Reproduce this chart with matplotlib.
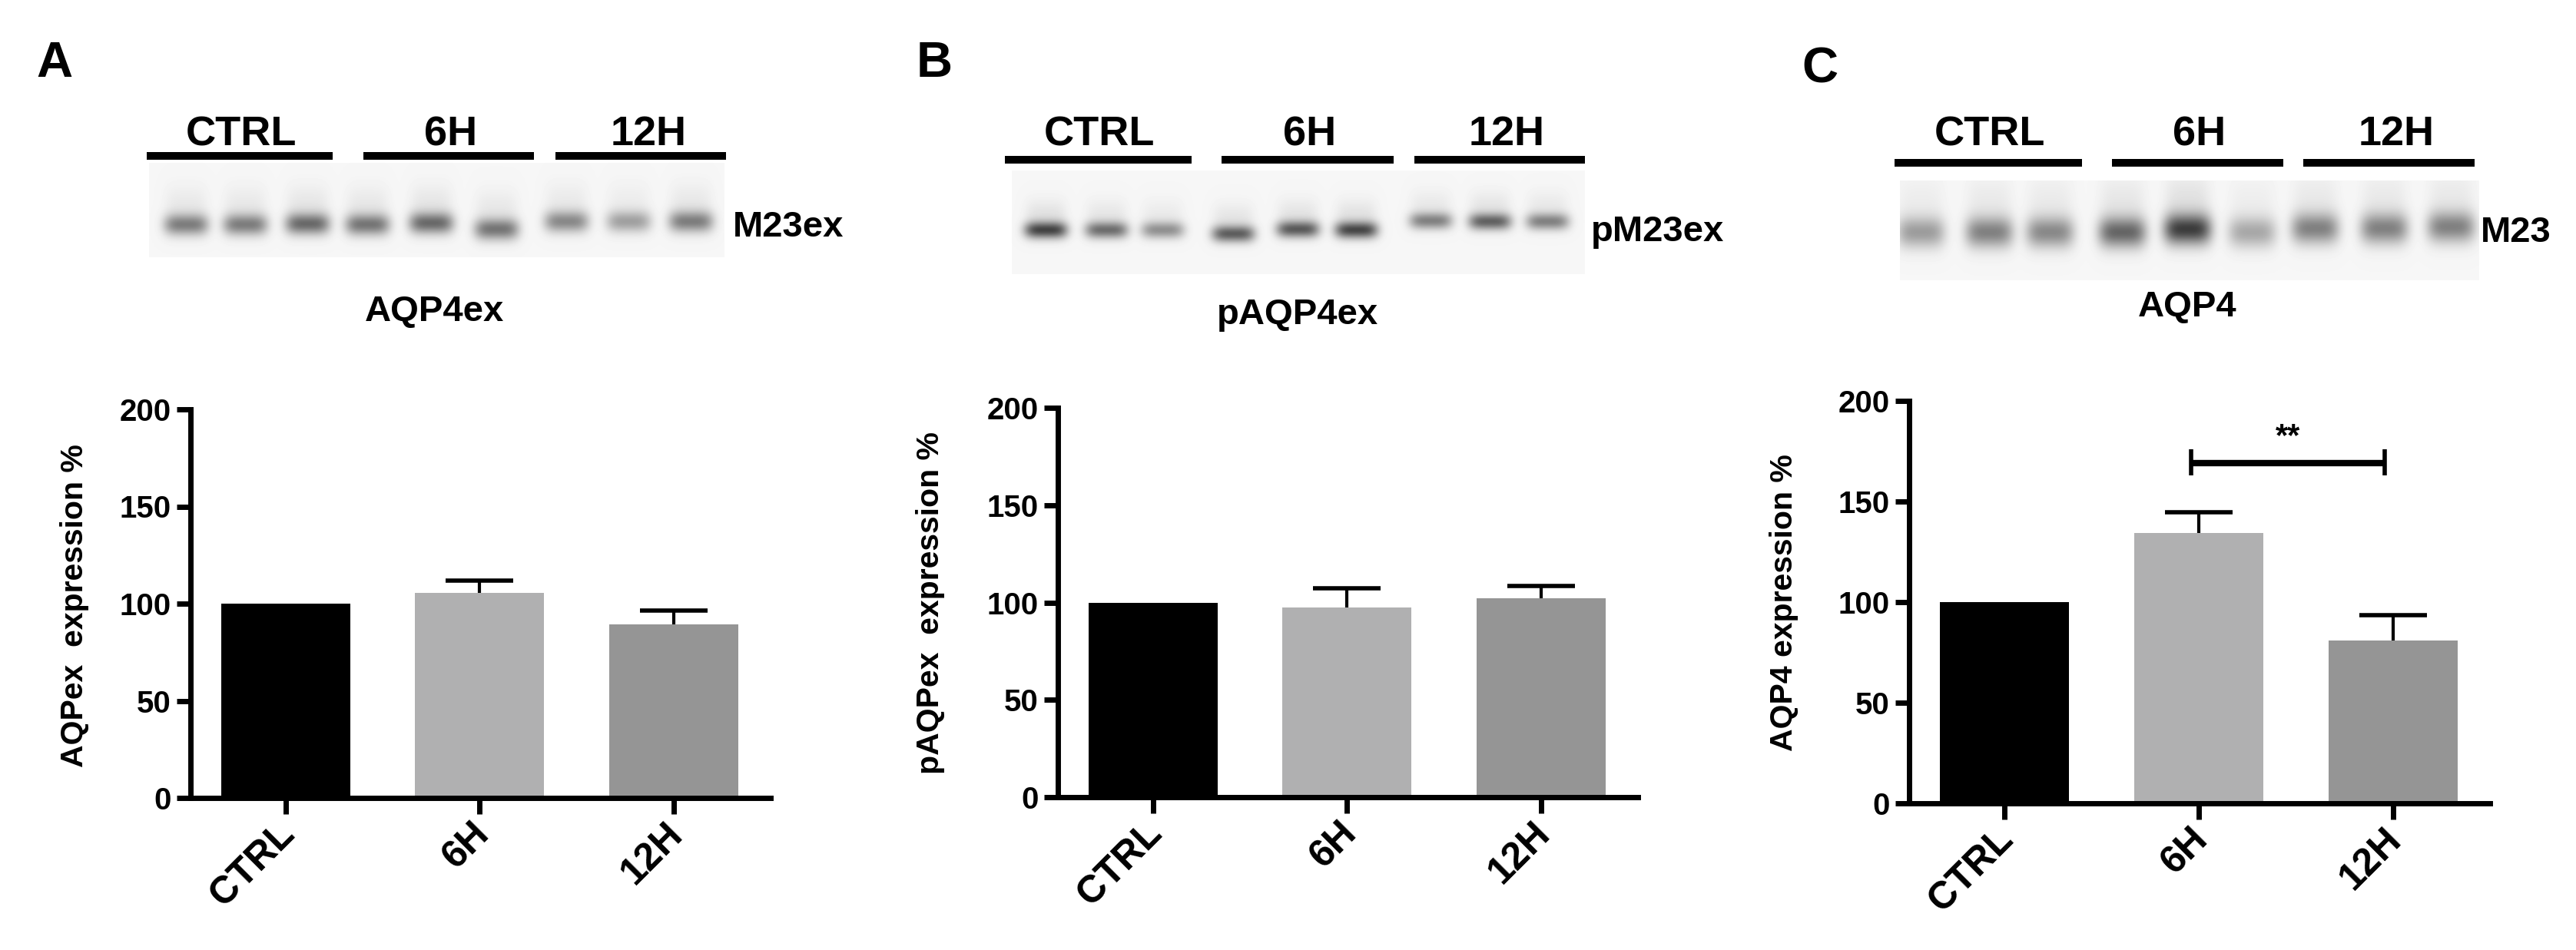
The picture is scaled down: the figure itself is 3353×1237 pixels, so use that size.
import matplotlib
matplotlib.use('Agg')
import matplotlib.pyplot as plt
import numpy as np

plt.rcParams['font.family'] = ['Liberation Sans', 'DejaVu Sans']
plt.rcParams['font.weight'] = 'bold'

W, H = 3353, 1237

groups = ['CTRL', '6H', '12H']
ticks_y = [0, 50, 100, 150, 200]

means_a = [100, 105.5, 89.3]
errs_a = [0, 6.5, 7.1]
means_b = [100, 97.6, 102.2]
errs_b = [0, 9.8, 6.3]
means_c = [100, 134.4, 81]
errs_c = [0, 10.4, 12.4]

colors = ['#000000', '#b0b0b1', '#959595']

ylabel_a = 'AQPex  expression %'
ylabel_b = 'pAQPex  expression %'
ylabel_c = 'AQP4 expression %'

# band strength per lane
dark_a = [0.62, 0.62, 0.72, 0.66, 0.72, 0.66, 0.56, 0.44, 0.62]
dark_b = [0.92, 0.70, 0.52, 0.78, 0.80, 0.90, 0.60, 0.76, 0.60]
dark_c = [0.46, 0.60, 0.56, 0.74, 0.95, 0.40, 0.60, 0.60, 0.60]

# lane layout in pixels
lanes_a_x = [242, 319, 400, 478, 561, 646, 737, 818, 899]
lanes_a_y = [292, 292, 291, 292, 290, 298, 288, 288, 288]
lanes_b_x = [1361, 1440, 1513, 1605, 1689, 1765, 1862, 1939, 2014]
lanes_b_y = [299, 299, 299, 304, 298, 299, 287, 288, 288]
lanes_c_x = [2500, 2589, 2668, 2762, 2847, 2931, 3013, 3103, 3190]
lanes_c_y = [302, 302, 302, 302, 298, 302, 297, 297, 295]

panels = [
    dict(letter='A', letter_xy=(71, 83), means=means_a, errs=errs_a, ylabel=ylabel_a,
         ylabel_xy=(97, 789), axes=(248, 1003, 533, 1039), xlim=(-0.49, 2.5),
         blot=(194, 943, 212, 335), lanes=(lanes_a_x, lanes_a_y, dark_a), band=(29, 14),
         rules=[(191, 433), (473, 695), (723, 945)], rule_y=203, heads=[314, 587, 844],
         tag='M23ex', tag_xy=(954, 296), name='AQP4ex', name_xy=(565, 406)),
    dict(letter='B', letter_xy=(1216, 83), means=means_b, errs=errs_b, ylabel=ylabel_b,
         ylabel_xy=(1211, 785), axes=(1377, 2132, 531, 1038), xlim=(-0.49, 2.5),
         blot=(1317, 2063, 222, 357), lanes=(lanes_b_x, lanes_b_y, dark_b), band=(28, 11),
         rules=[(1308, 1551), (1590, 1814), (1841, 2063)], rule_y=208, heads=[1431, 1705, 1961],
         tag='pM23ex', tag_xy=(2071, 302), name='pAQP4ex', name_xy=(1689, 410)),
    dict(letter='C', letter_xy=(2369, 90), means=means_c, errs=errs_c, ylabel=ylabel_c,
         ylabel_xy=(2322, 785), axes=(2485, 3241, 522, 1046), xlim=(-0.49, 2.5),
         blot=(2473, 3227, 235, 365), lanes=(lanes_c_x, lanes_c_y, dark_c), band=(31, 20),
         rules=[(2466, 2710), (2749, 2972), (2998, 3221)], rule_y=212, heads=[2590, 2863, 3119],
         tag='M23', tag_xy=(3229, 303), name='AQP4', name_xy=(2847, 400)),
]


def blot_image(box, lanes, band):
    x0, x1, y0, y1 = box
    xs, ys = np.meshgrid(np.arange(x0, x1), np.arange(y0, y1))
    img = np.full(xs.shape, 0.965)
    sx, sy = band
    for lx, ly, d in zip(*lanes):
        core = np.exp(-((xs - lx) / sx) ** 4) * np.exp(-((ys - ly) / sy) ** 2)
        smear = np.exp(-((xs - lx) / (sx * 0.95)) ** 4) * np.exp(-((ys - ly + 2.0 * sy) / (1.6 * sy)) ** 2)
        img -= 0.75 * d * core + 0.08 * d * smear
    return np.clip(img, 0, 1)


fig = plt.figure(figsize=(W / 100, H / 100), dpi=100, facecolor='white')
over = fig.add_axes([0, 0, 1, 1], zorder=0)
over.axis('off')

for p in panels:
    left, right, top, bottom = p['axes']
    ax = fig.add_axes([left / W, 1 - bottom / H, (right - left) / W, (bottom - top) / H], zorder=1)
    ax.patch.set_alpha(0)
    ax.bar(range(3), p['means'], width=0.665, color=colors, zorder=1)
    for i in range(1, 3):
        eb = ax.errorbar(i, p['means'][i], yerr=[[0], [p['errs'][i]]], color='black', elinewidth=3,
                         capsize=32, capthick=4, zorder=2)
        eb[1][0].set_visible(False)  # upper cap only
    ax.set_xlim(*p['xlim'])
    ax.set_ylim(0, 200)
    ax.set_yticks(ticks_y)
    ax.set_xticks(range(3))
    ax.set_xticklabels([])
    # tick labels sit left of the tick, a plain tick label can't be nudged sideways
    for i, g in enumerate(groups):
        ax.annotate(g, xy=(i, 0), xycoords=('data', 'axes fraction'), xytext=(-8.5, -17),
                    textcoords='offset points', rotation=45, ha='right', va='top',
                    rotation_mode='anchor', fontsize=36)
    ax.tick_params(axis='y', labelsize=29, length=13, width=5, pad=5)
    ax.tick_params(axis='x', length=15, width=5, pad=3)
    for s in ['top', 'right']:
        ax.spines[s].set_visible(False)
    for s in ['left', 'bottom']:
        ax.spines[s].set_linewidth(5)
        ax.spines[s].set_zorder(3)

    over.text(p['ylabel_xy'][0], p['ylabel_xy'][1], p['ylabel'], rotation=90, fontsize=29.5,
              ha='center', va='center')
    over.text(p['letter_xy'][0], p['letter_xy'][1], p['letter'], fontsize=47, ha='center', va='center')

    x0, x1, y0, y1 = p['blot']
    over.imshow(blot_image(p['blot'], p['lanes'], p['band']), cmap='gray', vmin=0, vmax=1,
                extent=(x0, x1, y1, y0), aspect='auto', interpolation='bilinear')
    for (a, b), cx, g in zip(p['rules'], p['heads'], groups):
        over.plot([a, b], [p['rule_y'], p['rule_y']], color='black', lw=7.2, solid_capstyle='butt')
        over.text(cx, 175, g, fontsize=39, ha='center', va='center')
    over.text(p['tag_xy'][0], p['tag_xy'][1], p['tag'], fontsize=34, ha='left', va='center')
    over.text(p['name_xy'][0], p['name_xy'][1], p['name'], fontsize=34, ha='center', va='center')

# significance bracket on panel C, 6H to 12H
ax_c = fig.axes[-1]
ax_c.plot([0.96, 1.96], [169, 169], color='black', lw=6, solid_capstyle='butt', clip_on=False)
for x in [0.96, 1.96]:
    ax_c.plot([x, x], [163, 176], color='black', lw=4, solid_capstyle='butt', clip_on=False)
ax_c.text(1.46, 182, '**', fontsize=30, ha='center', va='center')

over.set_xlim(0, W)
over.set_ylim(H, 0)

fig.savefig('out.png', dpi=100)
